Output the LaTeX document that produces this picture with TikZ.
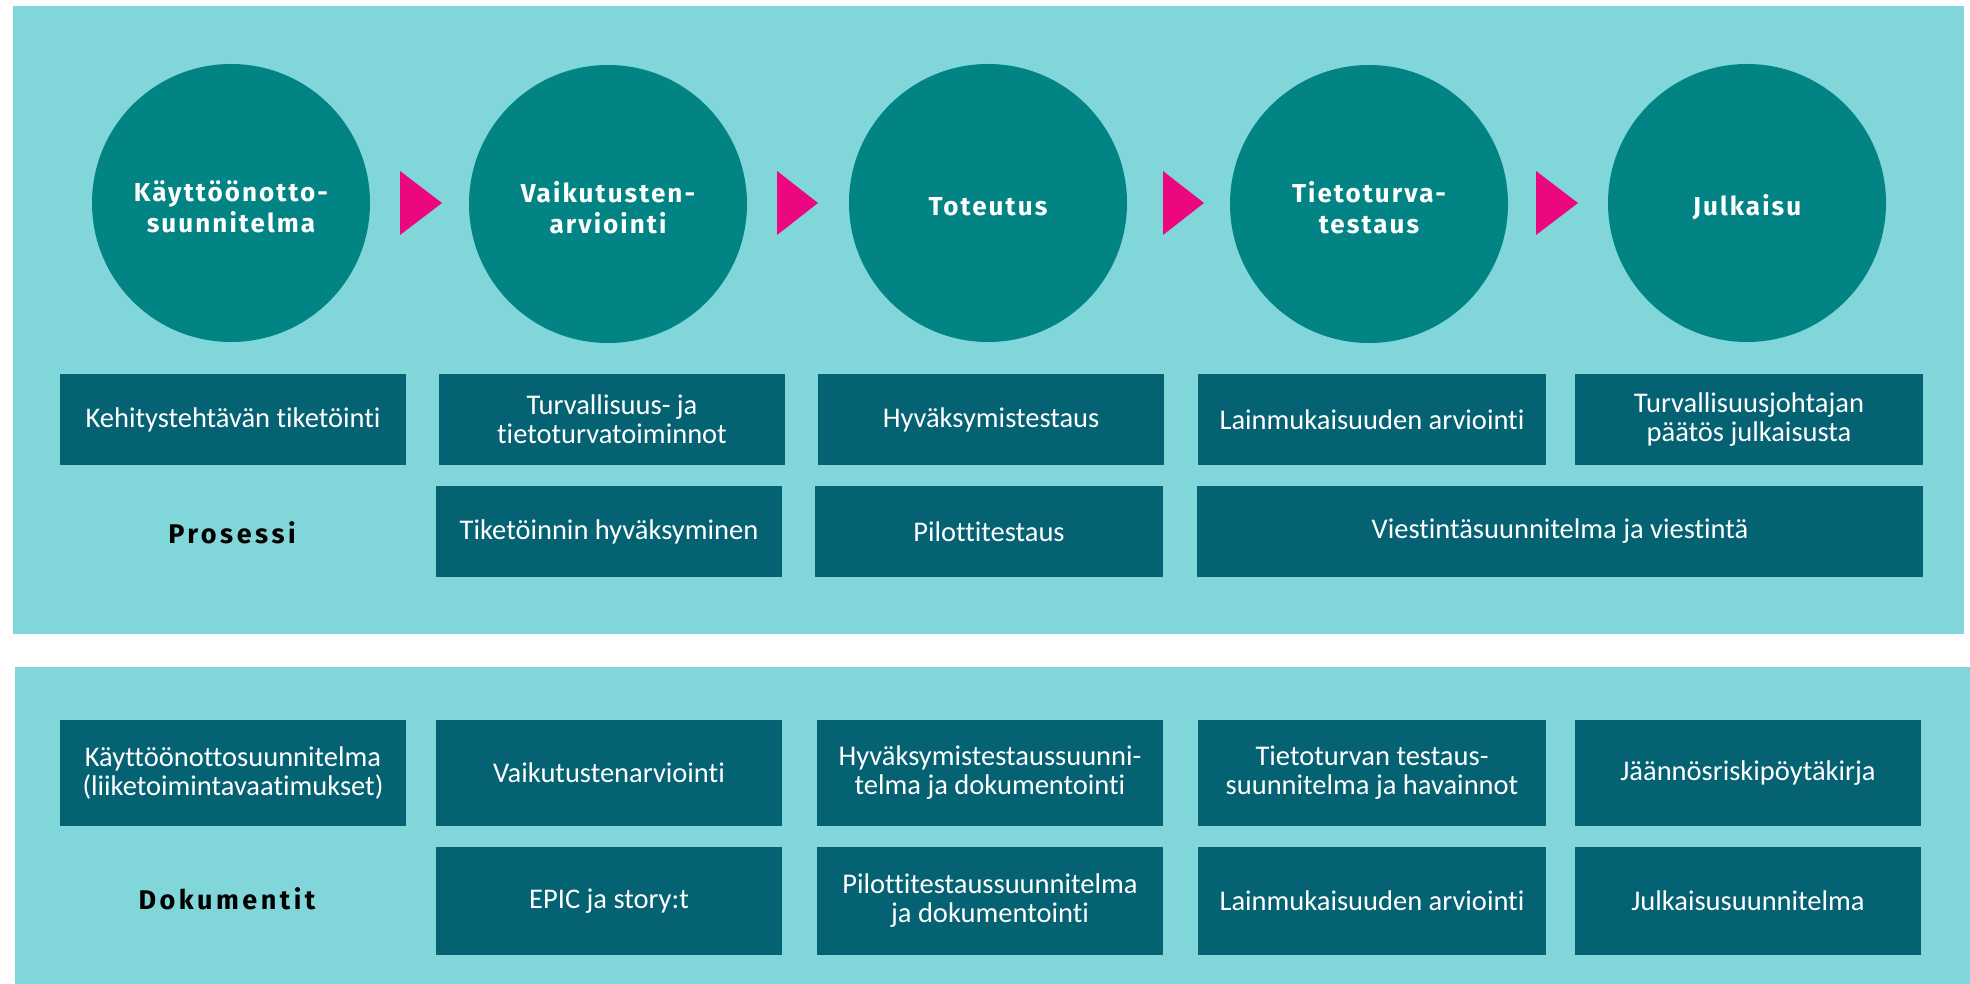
\documentclass[tikz,border=0pt]{standalone}
\usepackage{fontspec}
\setmainfont{Carlito}[Ligatures=NoCommon]
\newfontfamily\headfont{Fira Sans}[LetterSpace=8]
\newfontfamily\labelfont{Fira Sans}[LetterSpace=13]
\definecolor{bgteal}{HTML}{80D6D9}
\definecolor{circteal}{HTML}{028384}
\definecolor{boxteal}{HTML}{056273}
\definecolor{magentaarrow}{HTML}{EC0780}
\begin{document}
\begin{tikzpicture}[x=1pt,y=-1pt,
  phase/.style={circle, fill=circteal, minimum size=278pt, inner sep=0pt},
  phasetext/.style={text=white, align=center, inner sep=0pt,
    font=\headfont\bfseries\fontsize{26}{31}\selectfont},
  itembox/.style={rectangle, fill=boxteal, inner sep=0pt, text=white, align=center,
    font=\fontsize{28.5}{29}\selectfont},
  rowlabel/.style={text=black, font=\labelfont\bfseries\fontsize{27}{32}\selectfont},
  flowtri/.style={fill=magentaarrow}
]
\useasboundingbox (0,0) rectangle (1970,984);
\fill[white] (0,0) rectangle (1970,984);
% panels
\fill[bgteal] (13,6) rectangle (1964,634);
\fill[bgteal] (15,667) rectangle (1970,984);

% phases
\node[phase] (c1) at (231,203) {};
\node[phase] (c2) at (608,204) {};
\node[phase] (c3) at (988,203) {};
\node[phase] (c4) at (1369,204) {};
\node[phase] (c5) at (1747,203) {};
\node[phasetext] (t1) at ([yshift=-4pt]c1.center) {Käyttöönotto-\\suunnitelma};
\node[phasetext] (t2) at ([yshift=-4pt]c2.center) {Vaikutusten-\\arviointi};
\node[phasetext] (t3) at ([yshift=-4pt]c3.center) {Toteutus};
\node[phasetext] (t4) at ([yshift=-4pt]c4.center) {Tietoturva-\\testaus};
\node[phasetext] (t5) at ([yshift=-4pt]c5.center) {Julkaisu};

% arrows between phases
\fill[flowtri] (400,171) -- (442,203) -- (400,235) -- cycle;
\fill[flowtri] (777,171) -- (818,203) -- (777,235) -- cycle;
\fill[flowtri] (1163,171) -- (1204,203) -- (1163,235) -- cycle;
\fill[flowtri] (1536,171) -- (1578,203) -- (1536,235) -- cycle;

% process row 1
\node[itembox, minimum width=346pt, minimum height=91pt] (p1) at (233,419.5) {Kehitystehtävän tiketöinti};
\node[itembox, minimum width=346pt, minimum height=91pt] (p2) at (612,419.5) {Turvallisuus- ja\\tietoturvatoiminnot};
\node[itembox, minimum width=346pt, minimum height=91pt] (p3) at (991,419.5) {Hyväksymistestaus};
\node[itembox, minimum width=348pt, minimum height=91pt] (p4) at (1372,419.5) {Lainmukaisuuden arviointi};
\node[itembox, minimum width=348pt, minimum height=91pt] (p5) at (1749,419.5) {Turvallisuusjohtajan\\päätös julkaisusta};
% process row 2
\node[rowlabel] (plabel) at (232,533) {Prosessi};
\node[itembox, minimum width=346pt, minimum height=91pt] (q2) at (609,531.5) {Tiketöinnin hyväksyminen};
\node[itembox, minimum width=348pt, minimum height=91pt] (q3) at (989,531.5) {Pilottitestaus};
\node[itembox, minimum width=726pt, minimum height=91pt] (q4) at (1560,531.5) {Viestintäsuunnitelma ja viestintä};

% documents row 1
\node[itembox, minimum width=346pt, minimum height=106pt] (d1) at (233,773) {Käyttöönottosuunnitelma\\(liiketoimintavaatimukset)};
\node[itembox, minimum width=346pt, minimum height=106pt] (d2) at (609,773) {Vaikutustenarviointi};
\node[itembox, minimum width=346pt, minimum height=106pt] (d3) at (990,773) {Hyväksymistestaussuunni-\\telma ja dokumentointi};
\node[itembox, minimum width=348pt, minimum height=106pt] (d4) at (1372,773) {Tietoturvan testaus-\\suunnitelma ja havainnot};
\node[itembox, minimum width=346pt, minimum height=106pt] (d5) at (1748,773) {Jäännösriskipöytäkirja};
% documents row 2
\node[rowlabel] (dlabel) at (227,899) {Dokumentit};
\node[itembox, minimum width=346pt, minimum height=108pt] (e2) at (609,901) {EPIC ja story:t};
\node[itembox, minimum width=346pt, minimum height=108pt] (e3) at (990,901) {Pilottitestaussuunnitelma\\ja dokumentointi};
\node[itembox, minimum width=348pt, minimum height=108pt] (e4) at (1372,901) {Lainmukaisuuden arviointi};
\node[itembox, minimum width=346pt, minimum height=108pt] (e5) at (1748,901) {Julkaisusuunnitelma};
\end{tikzpicture}
\end{document}
